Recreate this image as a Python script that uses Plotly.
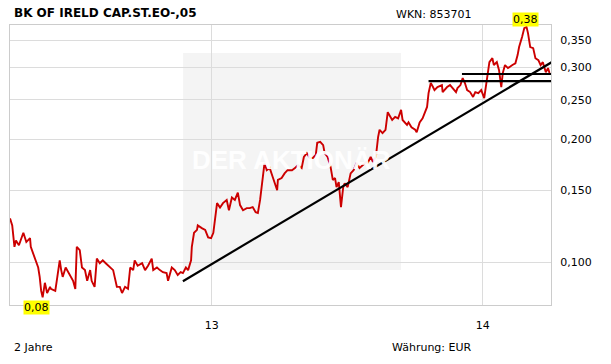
import pandas as pd
import plotly.graph_objects as go

# ---- data ----
start_date = "2012-04-04"
price_days = [0,3,6,8,12,18,22,27,28,34,38,40,42,44,47,50,54,55,61,63,67,69,71,75,81,85,88,89,90,94,97,101,104,108,110,114,117,121,125,129,135,139,141,144,
              148,151,155,159,162,166,168,172,178,182,186,191,193,198,202,206,211,213,218,222,226,230,233,237,240,244,245,248,252,253,259,263,267,271,274,276,279,283,287,292,295,299,303,307,310,314,319,323,327,331,334,337,339,341,343,346,350,354,360,361,366,370,374,
              380,384,388,393,396,400,404,408,412,414,418,422,424,428,432,435,438,440,443,446,449,451,455,459,463,467,471,475,480,482,486,489,493,496,498,502,506,509,
              511,515,519,523,527,529,535,537,541,546,548,552,556,559,562,564,567,570,572,576,582,583,589,593,597,601,603,607,610,613,616,620,624,627,631,635,639,643,646,650,652,656,659,662,664,667,671,677,681,684,686,690,693,696,698,701,705,708,712,715,718,722,725,727]
price_values = [0.128,0.123,0.109,0.113,0.110,0.118,0.112,0.1145,0.109,0.102,0.097,0.092,0.085,0.082,0.089,0.084,0.087,0.086,0.085,0.090,0.101,0.0956,0.092,0.097,0.093,0.090,0.086,0.094,0.109,0.107,0.097,0.0956,0.090,0.0956,0.090,0.087,0.102,0.0994,0.101,0.0994,0.097,0.0956,0.092,0.087,
                0.087,0.084,0.087,0.086,0.097,0.0956,0.101,0.098,0.0994,0.0956,0.098,0.102,0.0956,0.097,0.0956,0.0945,0.094,0.090,0.097,0.0956,0.093,0.0945,0.094,0.097,0.0956,0.101,0.109,0.118,0.120,0.123,0.121,0.120,0.115,0.1145,0.118,0.127,0.1395,0.136,0.1395,0.142,0.134,0.144,0.142,0.148,0.138,0.134,0.1356,0.1356,0.1364,0.1326,0.132,0.142,0.1527,0.165,0.175,0.168,0.170,0.1616,0.150,0.159,0.1607,0.165,0.168,
                0.168,0.170,0.173,0.170,0.181,0.185,0.180,0.180,0.183,0.196,0.197,0.1935,0.185,0.181,0.171,0.159,0.1607,0.1527,0.157,0.1364,0.1527,0.156,0.1527,0.165,0.168,0.175,0.170,0.173,0.176,0.175,0.181,0.176,0.181,0.2024,0.211,0.207,0.211,0.233,
                0.229,0.223,0.227,0.225,0.236,0.223,0.217,0.220,0.214,0.211,0.208,0.220,0.225,0.232,0.240,0.2595,0.2746,0.2685,0.264,0.2685,0.2715,0.261,0.2685,0.2715,0.267,0.261,0.267,0.2715,0.2825,0.2746,0.264,0.261,0.254,0.261,0.2595,0.264,0.2523,0.2873,0.309,0.316,0.304,0.309,0.2954,0.2685,0.2905,0.304,0.2988,0.304,0.307,0.3216,0.3365,0.356,0.3746,0.377,0.364,0.3365,0.3345,0.316,0.3126,0.304,0.309,0.292,0.2988,0.2905]

trend_days = [233, 730]
trend_values = [0.0898, 0.309]
resist1_days = [564, 729]
resist1_values = [0.2777, 0.2777]
resist2_days = [609, 729]
resist2_values = [0.289, 0.289]

y_tickvals = [0.10, 0.15, 0.20, 0.25, 0.30, 0.35]
y_ticktext = ["0,100", "0,150", "0,200", "0,250", "0,300", "0,350"]
x_tickvals = ["2013-01-01", "2014-01-01"]
x_ticktext = ["13", "14"]
max_label, min_label = "0,38", "0,08"
max_label_day, min_label_day = 695, 36

title = "BK OF IRELD CAP.ST.EO-,05"
wkn = "WKN: 853701"
period = "2 Jahre"
currency = "Währung: EUR"
watermark = "DER AKTIONÄR"

# ---- build ----
t0 = pd.Timestamp(start_date)
to_dates = lambda d: [t0 + pd.Timedelta(days=int(x)) for x in d]

fig = go.Figure()
fig.add_trace(go.Scatter(x=to_dates(price_days), y=price_values, mode="lines",
                         line=dict(color="#cc0000", width=1.9), hoverinfo="skip"))
for dd, vv in [(trend_days, trend_values), (resist1_days, resist1_values), (resist2_days, resist2_values)]:
    fig.add_trace(go.Scatter(x=to_dates(dd), y=vv, mode="lines",
                             line=dict(color="#000000", width=2.2), hoverinfo="skip"))

FONT = "DejaVu Sans"
fig.update_layout(
    width=611, height=364, showlegend=False,
    margin=dict(l=10, r=60, t=25, b=59),
    paper_bgcolor="white", plot_bgcolor="white",
    font=dict(family=FONT, size=11, color="#000000"),
    xaxis=dict(type="date", range=[t0, t0 + pd.Timedelta(days=729)],
               tickvals=x_tickvals, ticktext=x_ticktext, showgrid=True,
               gridcolor="#dcdcdc", gridwidth=1, zeroline=False,
               showline=True, linecolor="#cccccc", mirror=True,
               ticks="outside", ticklen=10, tickcolor="rgba(0,0,0,0)",
               tickfont=dict(family=FONT, size=11)),
    yaxis=dict(type="log", side="right",
               range=[-1.105, -0.419],
               tickvals=y_tickvals, ticktext=y_ticktext, showgrid=True,
               gridcolor="#dcdcdc", gridwidth=1, zeroline=False,
               showline=True, linecolor="#cccccc", mirror=True,
               ticks="outside", ticklen=6, tickcolor="rgba(0,0,0,0)",
               tickfont=dict(family=FONT, size=11)),
)

fig.add_shape(type="rect", xref="paper", yref="paper", x0=0.320, x1=0.7227, y0=0.125, y1=0.90,
              fillcolor="#f4f4f4", line=dict(width=0), layer="below")
fig.add_annotation(xref="paper", yref="paper", x=0.521, y=0.518, text="<b>" + watermark + "</b>",
                   showarrow=False, font=dict(family="Liberation Sans", size=26, color="rgba(255,255,255,0.95)"))

fig.add_annotation(xref="paper", yref="paper", x=0.0037, y=1.043, xanchor="left", yanchor="middle",
                   text="<b>" + title + "</b>", showarrow=False, font=dict(family=FONT, size=12))
fig.add_annotation(xref="paper", yref="paper", x=0.7098, y=1.039, xanchor="left", yanchor="middle",
                   text=wkn, showarrow=False, font=dict(family=FONT, size=11))
fig.add_annotation(xref="paper", yref="paper", x=0.0037, y=-0.15, xanchor="left", yanchor="middle",
                   text=period, showarrow=False, font=dict(family=FONT, size=11))
fig.add_annotation(xref="paper", yref="paper", x=0.7024, y=-0.15, xanchor="left", yanchor="middle",
                   text=currency, showarrow=False, font=dict(family=FONT, size=11))

fig.add_annotation(xref="x", yref="paper", x=t0 + pd.Timedelta(days=max_label_day), y=1.018,
                   text=max_label, showarrow=False, bgcolor="#ffff00", borderpad=0,
                   yanchor="middle", font=dict(family=FONT, size=11))
fig.add_annotation(xref="x", yref="paper", x=t0 + pd.Timedelta(days=min_label_day), y=-0.009,
                   text=min_label, showarrow=False, bgcolor="#ffff00", borderpad=0,
                   yanchor="middle", font=dict(family=FONT, size=11))

fig.write_html("out.html")
